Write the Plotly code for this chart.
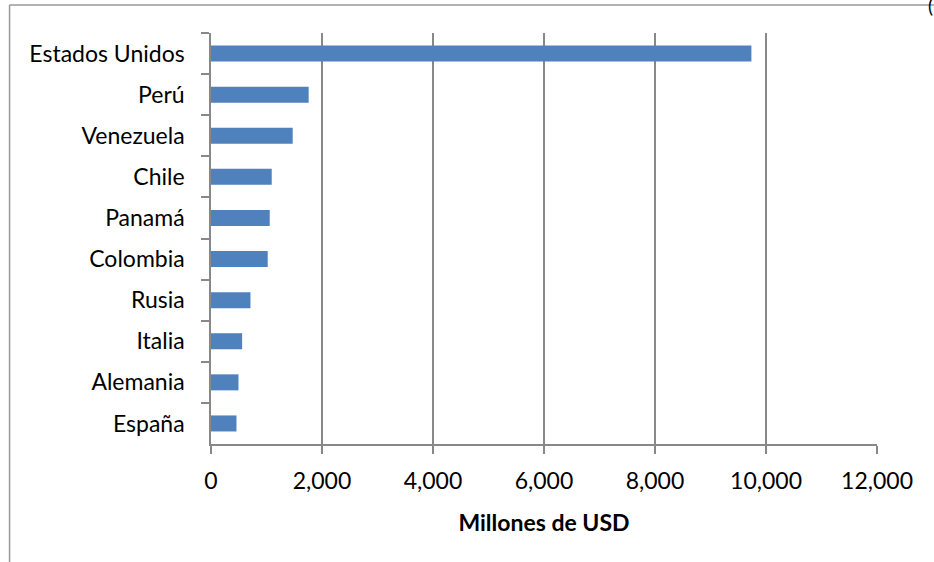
import plotly.graph_objects as go

paises = ["Estados Unidos", "Perú", "Venezuela", "Chile", "Panamá",
          "Colombia", "Rusia", "Italia", "Alemania", "España"]
valores = [9737, 1760, 1472, 1094, 1058, 1022, 711, 561, 495, 459]
x_ticks = [0, 2000, 4000, 6000, 8000, 10000, 12000]
x_tick_text = ["0", "2,000", "4,000", "6,000", "8,000", "10,000", "12,000"]

W, H = 934, 562
L, R, T, B = 210.5, 57.3, 33, 118
pw, ph = W - L - R, H - T - B

def px(x):
    return (x - L) / pw

def py(y):
    return (H - B - y) / ph

font = "Lato, 'Open Sans', sans-serif"

fig = go.Figure(go.Bar(
    x=valores, y=paises, orientation="h",
    marker=dict(color="#4F81BD", line=dict(width=0)),
))

fig.update_layout(
    width=W, height=H,
    margin=dict(l=L, r=R, t=T, b=B),
    plot_bgcolor="white", paper_bgcolor="white",
    bargap=0.61,
    showlegend=False,
    font=dict(family=font, size=23, color="black"),
    xaxis=dict(
        range=[0, 12000], tickvals=x_ticks, ticktext=x_tick_text,
        showgrid=True, gridcolor="#888888", gridwidth=1.5,
        ticks="outside", ticklen=8, tickcolor="#888888", tickwidth=1.5,
        showline=True, linecolor="#888888", linewidth=1.5,
        zeroline=False,
        ticklabelstandoff=8,
        tickfont=dict(size=23),
        title=dict(text="<b>Millones de USD</b>", font=dict(size=23), standoff=22),
    ),
    yaxis=dict(
        autorange="reversed",
        showgrid=False,
        showline=True, linecolor="#888888", linewidth=1.5,
        ticks="outside", ticklen=8, tickcolor="#888888", tickwidth=1.5,
        tickson="boundaries",
        ticklabelstandoff=20,
        tickfont=dict(size=23),
    ),
    shapes=[
        dict(type="line", xref="paper", yref="paper",
             x0=px(9), x1=px(934), y0=py(5), y1=py(5),
             line=dict(color="#999999", width=1.5)),
        dict(type="line", xref="paper", yref="paper",
             x0=px(9), x1=px(9), y0=py(5), y1=py(562),
             line=dict(color="#999999", width=1.5)),
    ],
    annotations=[
        dict(text="(", xref="paper", yref="paper", x=px(926), y=py(-8),
             xanchor="left", yanchor="top", showarrow=False,
             font=dict(size=19, color="black")),
    ],
)

fig.write_html("out.html", config={"displayModeBar": False},
               post_script="document.body.style.margin='0';document.body.style.overflow='hidden';")
